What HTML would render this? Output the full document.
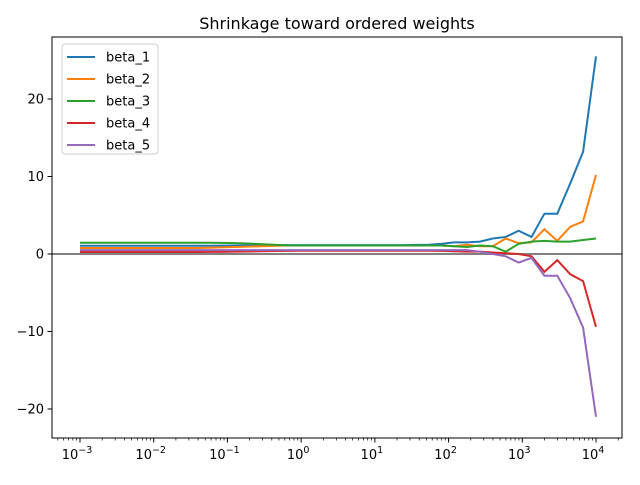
<!DOCTYPE html>
<html><head><meta charset="utf-8"><style>
body{margin:0;background:#fff;font-family:"Liberation Sans","DejaVu Sans",sans-serif}
text{font-family:"DejaVu Sans","Liberation Sans",sans-serif}
</style></head><body>
<svg id="chart" width="640" height="480" xmlns="http://www.w3.org/2000/svg">
<rect width="640" height="480" fill="#fff"/>
<text x="337" y="29" text-anchor="middle" font-size="16">Shrinkage toward ordered weights</text>
<g id="plot"></g>
</svg>
<script>
const seriesNames=["beta_1","beta_2","beta_3","beta_4","beta_5"];
const colors=["#1f77b4","#ff7f0e","#2ca02c","#d62728","#9467bd"];
const beta1=[1.07,1.07,1.07,1.07,1.07,1.07,1.07,1.07,1.07,1.07,1.07,1.08,1.1,1.1,1.12,1.13,1.14,1.15,1.15,1.15,1.15,1.15,1.15,1.15,1.15,1.15,1.17,1.2,1.3,1.5,1.5,1.6,2.0,2.2,3.0,2.2,5.2,5.2,9.1,13.2,25.5];
const beta2=[0.78,0.78,0.78,0.78,0.78,0.78,0.78,0.78,0.78,0.78,0.8,0.85,0.9,0.95,1.0,1.05,1.1,1.1,1.1,1.1,1.1,1.1,1.1,1.1,1.1,1.1,1.1,1.1,1.1,1.0,1.2,1.0,1.0,2.0,1.4,1.5,3.2,1.7,3.5,4.2,10.2];
const beta3=[1.46,1.46,1.46,1.46,1.46,1.46,1.46,1.46,1.46,1.46,1.45,1.43,1.4,1.35,1.28,1.2,1.12,1.1,1.1,1.1,1.1,1.1,1.1,1.1,1.1,1.1,1.1,1.1,1.1,1.0,0.9,1.1,1.0,0.3,1.3,1.6,1.7,1.6,1.6,1.8,2.0];
const beta4=[0.26,0.26,0.26,0.26,0.26,0.26,0.26,0.26,0.26,0.26,0.27,0.28,0.3,0.32,0.35,0.38,0.4,0.42,0.42,0.42,0.42,0.42,0.42,0.42,0.42,0.42,0.42,0.42,0.4,0.35,0.3,0.3,0.2,0.1,0.0,-0.3,-2.3,-0.8,-2.6,-3.5,-9.4];
const beta5=[0.5,0.5,0.5,0.5,0.5,0.5,0.5,0.5,0.5,0.5,0.5,0.5,0.5,0.5,0.5,0.5,0.5,0.5,0.5,0.5,0.5,0.5,0.5,0.5,0.5,0.5,0.5,0.5,0.5,0.5,0.5,0.3,0.0,-0.3,-1.1,-0.5,-2.8,-2.8,-5.7,-9.5,-21.0];
const xLogMin=-3, xLogMax=4;
const xTickExps=[-3,-2,-1,0,1,2,3,4];
const yTicks=[-20,-10,0,10,20];
const allSeries=[beta1,beta2,beta3,beta4,beta5];

const L=52,R=622,T=37,B=438;
const xs=e=>80+(e-xLogMin)*(596-80)/(xLogMax-xLogMin);
const ys=v=>254-v*7.75;
const ns="http://www.w3.org/2000/svg";
const g=document.getElementById('plot');
function mk(tag,attrs,parent){const e=document.createElementNS(ns,tag);for(const k in attrs)e.setAttribute(k,attrs[k]);(parent||g).appendChild(e);return e;}

const z=mk('line',{x1:L,x2:R,y1:ys(0),y2:ys(0),stroke:'#808080','stroke-width':2});



const n=beta1.length;
allSeries.forEach((s,si)=>{
  const pts=s.map((v,i)=>{const e=xLogMin+i*(xLogMax-xLogMin)/(n-1);return xs(e).toFixed(2)+','+ys(v).toFixed(2);}).join(' ');
  const p=mk('polyline',{points:pts,fill:'none',stroke:colors[si],'stroke-width':2});
  
  
});

const fr=mk('rect',{x:L,y:T,width:R-L,height:B-T,fill:'none',stroke:'#000','stroke-width':1});



xTickExps.forEach(e=>{
  const x=xs(e);
  mk('line',{x1:x,x2:x,y1:B,y2:B+4.5,stroke:'#000','stroke-width':1});
  const t=mk('text',{x:x-3,y:B+21,'text-anchor':'middle','font-size':13});
  t.textContent='10';
  const sp=mk('tspan',{dy:-6,'font-size':9.5},t);sp.textContent=String(e).replace('-','−');
  
  
  for(let k=2;k<10;k++){const xm=xs(e+Math.log10(k));if(xm<R&&xm>L)mk('line',{x1:xm,x2:xm,y1:B,y2:B+2.5,stroke:'#000','stroke-width':0.7});}
});
for(let k=5;k<10;k++){const xm=xs(-4+Math.log10(k));if(xm>L)mk('line',{x1:xm,x2:xm,y1:B,y2:B+2.5,stroke:'#000','stroke-width':0.7});}
yTicks.forEach(v=>{
  const y=ys(v);
  mk('line',{x1:L-4.5,x2:L,y1:y,y2:y,stroke:'#000','stroke-width':1});
  const t=mk('text',{x:L-8,y:y+4.5,'text-anchor':'end','font-size':13});
  t.textContent=String(v).replace('-','−');
  
  
});

const lg=mk('g',{});


mk('rect',{x:62,y:44,width:96,height:110,rx:3,fill:'#fff','fill-opacity':0.8,stroke:'#ccc'},lg);
seriesNames.forEach((nm,i)=>{
  const y=57+i*22;
  const en=mk('g',{},lg);
  
  
  mk('line',{x1:67,x2:95,y1:y,y2:y,stroke:colors[i],'stroke-width':2},en);
  const t=mk('text',{x:106,y:y+4.5,'font-size':13},en);t.textContent=nm;
});
</script>
</body></html>
